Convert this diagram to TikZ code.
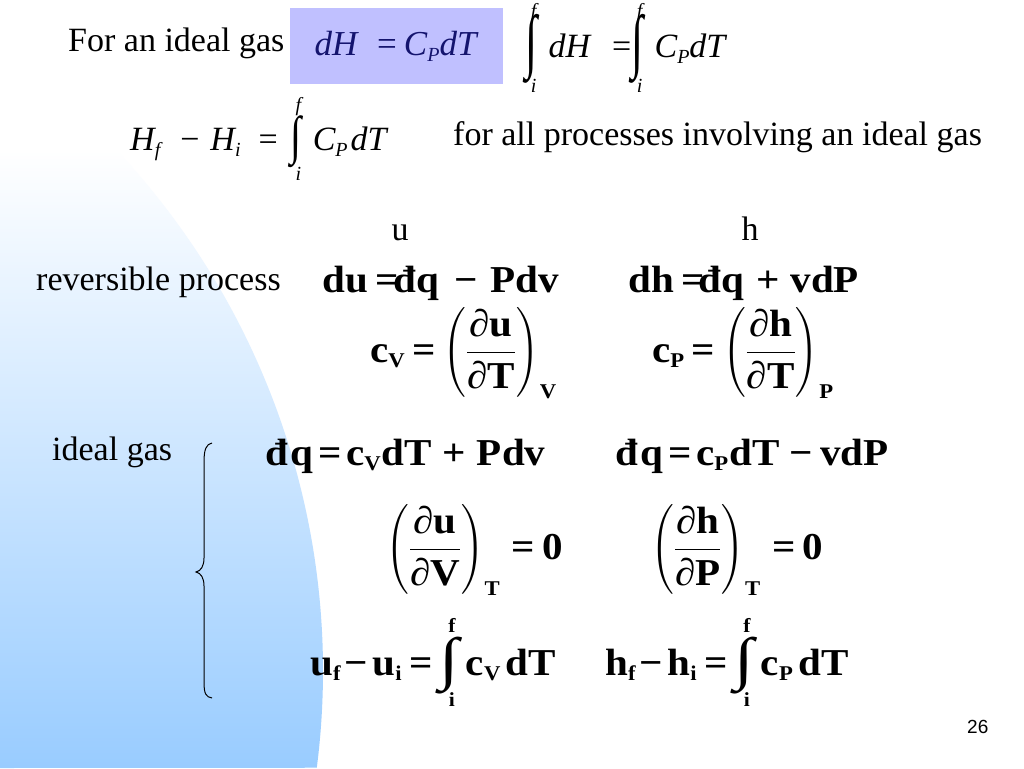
\RequirePackage{fix-cm}
\documentclass[tikz,border=0pt]{standalone}
\usepackage{amsmath}
\usepackage{graphicx}
\usepackage{fontspec}
\setmainfont{Liberation Serif}
\setsansfont{Liberation Sans}
\usetikzlibrary{positioning}

\definecolor{boxblue}{RGB}{192,192,255}
\definecolor{boxtext}{RGB}{20,20,110}
\definecolor{slideblue}{RGB}{153,204,255}
\pgfdeclareverticalshading{sidefade}{100bp}{color(0bp)=(slideblue); color(25bp)=(slideblue);
  color(68bp)=(white); color(100bp)=(white)}

\newcommand{\vi}[1]{\text{\itshape #1}}
\newcommand{\vb}[1]{\text{\bfseries #1}}
\newcommand{\sbi}[1]{\raisebox{-6pt}{\fontsize{20}{20}\selectfont\itshape #1}}
\newcommand{\sbb}[1]{\raisebox{-5pt}{\fontsize{21}{21}\selectfont\bfseries #1}}
\newcommand{\subb}[1]{\mbox{\fontsize{21}{21}\selectfont\bfseries #1}}
\newcommand{\eqbox}[1]{\scalebox{1.08}[1]{#1}}
% integral with limits i and f: limit style, width, height, raise of i, raise of f
\newcommand{\lint}[5]{\mathop{\vcenter{\hbox{\resizebox*{#2}{#3}{\upshape ∫}}}}\limits_{\smash{\raisebox{#4}{\fontsize{20}{20}\selectfont#1 i}}}^{\smash{\raisebox{#5}{\fontsize{20}{20}\selectfont#1 f}}}}

\begin{document}
\begin{tikzpicture}[x=1pt,y=-1pt]
        \tikzset{txt/.style={anchor=base west, inner sep=0pt, font=\fontsize{34}{40}\selectfont},
        eqn/.style={anchor=base west, inner sep=0pt, font=\fontsize{38}{44}\selectfont\bfseries},
        hilite/.style={fill=boxblue, inner sep=0pt, minimum width=213pt, minimum height=76pt,
          anchor=north west, text=boxtext, font=\fontsize{35}{40}\selectfont},
        }
        \useasboundingbox (0,0) rectangle (1024,768);
        \fill[white] (0,0) rectangle (1024,768);
        \shade[shading=sidefade] (0,768) -- (0,49)
            arc[start angle=-54.9, end angle=7.33, radius=760] -- cycle;

%% top block
        \node [txt] (forgas) at (68,52) {For an ideal gas};
        \node [hilite] (dHbox) at (290,8) {\textit{dH}\hspace{18pt}=\hspace{7pt}\textit{C}\sbi{P}\textit{dT}};
        \node [txt] (intdH) at (525,57) {$\lint{\itshape}{12pt}{69pt}{5.4pt}{-8.8pt}\,\vi{dH}\hspace{22pt}\text{=}\mkern-3mu
            \lint{\itshape}{12pt}{69pt}{5.4pt}{-8.8pt}\,\vi{C}\sbi{P}\vi{dT}$};
        \node [txt] (HfHi) at (130,150) {$\vi{H}\sbi{f}\hspace{20pt}\text{−}\hspace{11pt}\vi{H}\sbi{i}\hspace{18pt}\text{=}\hspace{7pt}
            \lint{\itshape}{11pt}{52pt}{2.4pt}{-0.8pt}\,\vi{C}\sbi{P}\hspace{3pt}\vi{dT}$};
        \node [txt] (allproc) at (453,145) {for all processes involving an ideal gas};

%% reversible process
        \node [txt, anchor=base] (ulab) at (400,240) {u};
        \node [txt, anchor=base] (hlab) at (750,240) {h};
        \node [txt] (revproc) at (36,290) {reversible process};
        \node [eqn] (dueq) at (322,292) {\eqbox{du\hspace{7.4pt}=\hspace{-5.5pt}đq\hspace{14pt}−\hspace{12pt}Pdv}};
        \node [eqn] (dheq) at (628,292) {\eqbox{dh\hspace{7pt}=\hspace{-5.5pt}đq\hspace{11pt}+\hspace{10pt}vdP}};
        \node [eqn] (cveq) at (370,362) {\eqbox{$\vb{c}\sbb{V}\hspace{7pt}\vb{=}\left(\dfrac{\vb{∂u}}{\vb{∂T}}\right)_{\subb{V}}$}};
        \node [eqn] (cpeq) at (652,362) {\eqbox{$\vb{c}\sbb{P}\hspace{7pt}\vb{=}\left(\dfrac{\vb{∂h}}{\vb{∂T}}\right)_{\subb{P}}$}};

%% ideal gas
        \node [txt] (idealgas) at (52,460) {ideal gas};
        \draw [line width=1pt] (212,443) .. controls (206,444) and (204,450) .. (204,462) -- (204,558)
            .. controls (204,566) and (201,571) .. (196,572) .. controls (201,573) and (204,578) .. (204,586)
            -- (204,682) .. controls (204,694) and (206,697) .. (212,698);
        \node [eqn] (dqv) at (265,465) {\eqbox{đ\hspace{2pt}q\hspace{5pt}=\hspace{4pt}c\sbb{V}\hspace{1pt}dT\hspace{10pt}+\hspace{10pt}Pdv}};
        \node [eqn] (dqp) at (615,465) {\eqbox{đ\hspace{2pt}q\hspace{5pt}=\hspace{4pt}c\sbb{P}\hspace{1pt}dT\hspace{9pt}−\hspace{7pt}vdP}};
        \node [eqn] (dudv) at (385,559) {\eqbox{$\left(\dfrac{\vb{∂u}}{\vb{∂V}}\right)_{\subb{T}}\hspace{4pt}\vb{=\hspace{7pt}0}$}};
        \node [eqn] (dhdp) at (650,559) {\eqbox{$\left(\dfrac{\vb{∂h}}{\vb{∂P}}\right)_{\subb{T}}\hspace{4pt}\vb{=\hspace{7pt}0}$}};
        \node [eqn] (uint) at (310,675) {\eqbox{$\vb{u}\sbb{f}\hspace{4pt}\vb{−}\hspace{4pt}\vb{u}\sbb{i}\hspace{7pt}\vb{=}
            \lint{\bfseries}{18pt}{57pt}{2pt}{0pt}\vb{c}\sbb{V}\hspace{5pt}\vb{dT}$}};
        \node [eqn] (hint) at (605,675) {\eqbox{$\vb{h}\sbb{f}\hspace{4pt}\vb{−}\hspace{4pt}\vb{h}\sbb{i}\hspace{7pt}\vb{=}
            \lint{\bfseries}{18pt}{57pt}{2pt}{0pt}\vb{c}\sbb{P}\hspace{5pt}\vb{dT}$}};

        \node [anchor=base west, inner sep=0pt, font=\fontsize{19}{22}\sffamily] (pagenum) at (967,733) {26};
\end{tikzpicture}
\end{document}
